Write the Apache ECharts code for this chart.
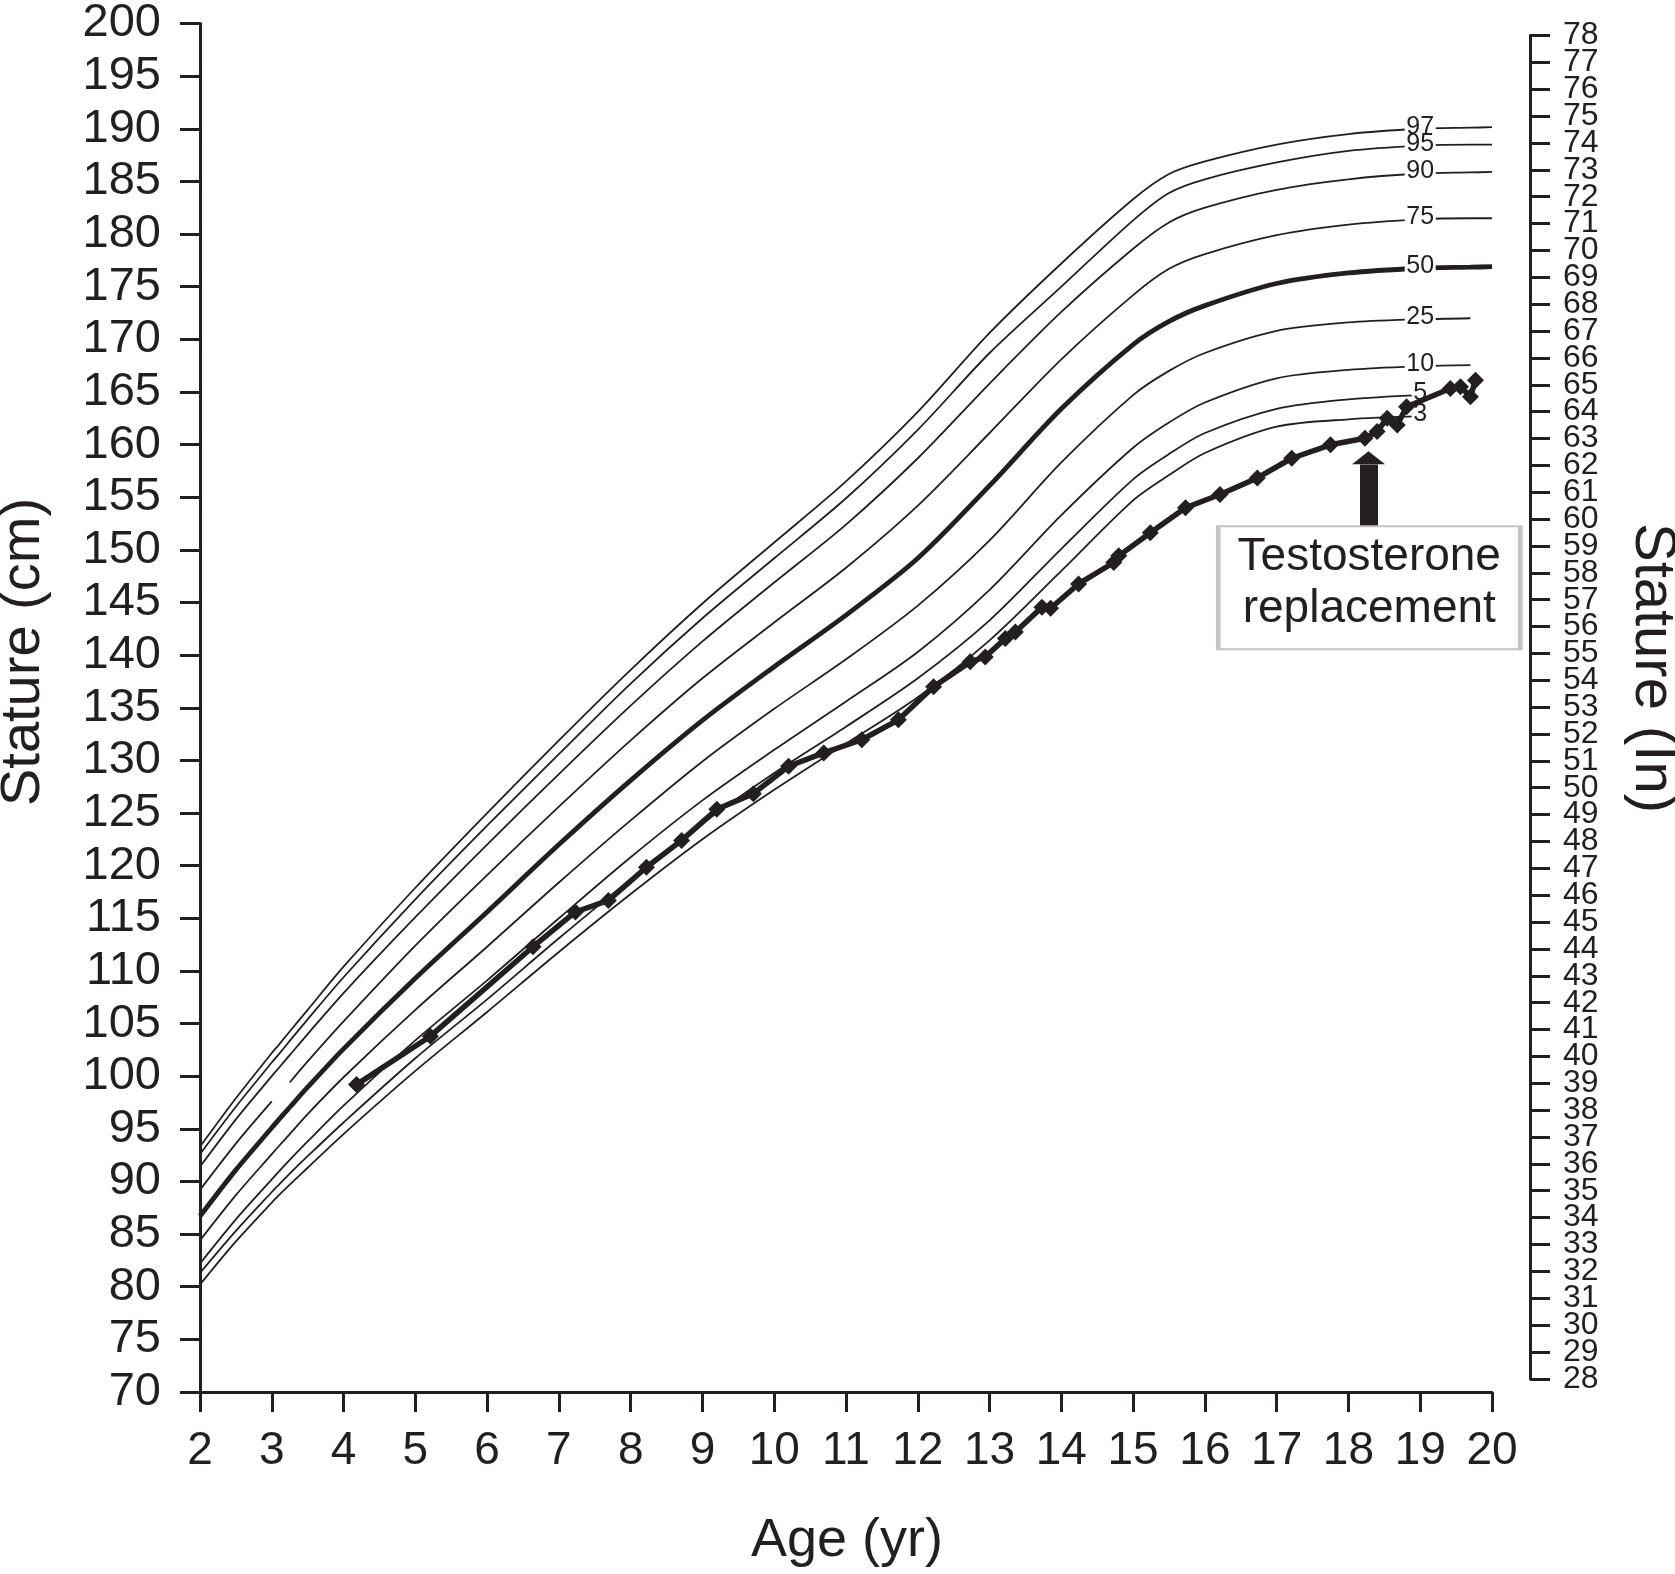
<!DOCTYPE html>
<html>
<head>
<meta charset="utf-8">
<script src="https://cdn.jsdelivr.net/npm/echarts@6/dist/echarts.min.js"></script>
<style>
html,body{margin:0;padding:0;background:#fff;}
#chart{width:1675px;height:1574px;}
</style>
</head>
<body>
<div id="chart"></div>
<script>
// ---------- data ----------
const ages = [2, 2.5, 3, 3.1, 3.25, 3.5, 4, 5, 6, 7, 8, 9, 10, 11, 12, 13, 14, 15, 15.5, 16, 17, 18, 19, 19.7, 20];
const p3  = [80.2, 84.3, 88.0, 88.7, 89.7, 91.3, 94.5, 100.5, 106.1, 111.8, 117.3, 122.5, 127.2, 131.6, 136.0, 141.4, 148.0, 154.7, 157.1, 159.2, 161.7, 162.4, 162.7, null, null];
const p5  = [81.3, 85.3, 89.0, 89.7, 90.75, 92.4, 95.6, 101.7, 107.3, 113.1, 118.7, 124.0, 128.8, 133.2, 137.8, 143.3, 150.1, 156.7, 159.1, 161.1, 163.4, 164.3, 164.7, null, null];
const p10 = [82.2, 86.4, 90.2, 90.95, 92.05, 93.8, 97.2, 103.4, 109.1, 115.0, 120.8, 126.2, 131.0, 135.6, 140.3, 146.2, 153.3, 159.7, 162.1, 164.0, 166.3, 167.1, 167.45, 167.55, null];
const p25 = [84.4, 88.7, 92.6, 93.37, 94.5, 96.4, 99.9, 106.3, 112.3, 118.4, 124.3, 129.9, 134.9, 139.6, 144.7, 150.9, 158.3, 164.7, 167.0, 168.7, 170.8, 171.6, 171.9, 172.0, null];
const p50 = [86.7, 91.1, 95.1, 95.9, 97.05, 98.95, 102.6, 109.3, 115.6, 122.0, 128.1, 133.8, 138.9, 143.8, 149.2, 156.1, 163.4, 169.5, 171.7, 173.2, 175.3, 176.3, 176.75, 176.85, 176.9];
const p75 = [89.2, 93.6, 97.6, null, 99.4, 101.4, 105.2, 112.4, 119.1, 125.6, 131.9, 137.8, 143.1, 148.3, 154.2, 161.1, 168.1, 174.2, 176.7, 178.1, 179.9, 180.9, 181.4, 181.5, 181.5];
const p90 = [91.4, 95.9, 100.0, 100.8, 102.0, 104.0, 107.9, 115.1, 122.0, 128.7, 135.2, 141.3, 146.9, 152.4, 158.7, 165.8, 172.6, 178.6, 181.1, 182.5, 184.2, 185.2, 185.75, 185.85, 185.9];
const p95 = [92.6, 97.1, 101.3, 102.1, 103.35, 105.4, 109.4, 116.8, 123.8, 130.6, 137.3, 143.5, 149.2, 154.9, 161.4, 168.7, 175.0, 181.3, 183.9, 185.2, 186.8, 187.9, 188.4, 188.5, 188.5];
const p97 = [93.3, 97.9, 102.2, 103.0, 104.25, 106.3, 110.4, 117.9, 125.0, 131.9, 138.6, 144.9, 150.7, 156.5, 163.1, 170.6, 177.2, 183.3, 185.7, 186.9, 188.5, 189.5, 190.0, 190.1, 190.15];
const percentileNames = ['3', '5', '10', '25', '50', '75', '90', '95', '97'];
const percentileValues = [p3, p5, p10, p25, p50, p75, p90, p95, p97];
const labelAge = 19;

const patientAge = [4.18, 5.21, 6.64, 7.23, 7.69, 8.22, 8.71, 9.20, 9.71, 10.20, 10.69, 11.22, 11.73, 12.22, 12.73, 12.94, 13.22, 13.36, 13.73, 13.85, 14.24, 14.73, 14.80, 15.24, 15.73, 16.21, 16.73, 17.21, 17.75, 18.23, 18.40, 18.54, 18.68, 18.81, 19.42, 19.56, 19.70, 19.77];
const patientCm  = [99.2, 103.8, 112.3, 115.6, 116.7, 119.85, 122.4, 125.35, 126.84, 129.44, 130.71, 131.96, 133.85, 137.0, 139.36, 139.83, 141.57, 142.19, 144.55, 144.45, 146.76, 148.8, 149.43, 151.63, 154.0, 155.26, 156.83, 158.7, 159.98, 160.6, 161.24, 162.5, 161.87, 163.6, 165.33, 165.49, 164.55, 166.12];

const xTicks = {min: 2, max: 20, step: 1};
const cmTicks = {min: 70, max: 200, step: 5};
const inTicks = {min: 28, max: 78, step: 1};

const annotationText = 'Testosterone\nreplacement';
const annotationAt = [18.29, 146.4];
const arrowAge = 18.28;
const arrowShaft = [152.2, 158.1];
const arrowHeadCenter = 158.74;

// ---------- chart ----------
const INK = '#231f20';
const FONT = '"Liberation Sans", Arial, Helvetica, sans-serif';
const chart = echarts.init(document.getElementById('chart'));

const series = percentileNames.map((name, k) => {
  const vals = percentileValues[k];
  const data = ages.map((a, i) => [a, vals[i] == null ? '-' : vals[i]]);
  const li = ages.indexOf(labelAge);
  return {
    type: 'line', name: 'P' + name, xAxisIndex: 0, yAxisIndex: 0,
    data, smooth: 0.3, showSymbol: false, symbol: 'none', silent: true, z: 2,
    connectNulls: false,
    lineStyle: {color: INK, width: name === '50' ? 4.8 : 1.8},
    markPoint: {
      silent: true, animation: false,
      symbol: 'rect', symbolSize: [name.length * 14 + 3, 18],
      itemStyle: {color: '#fff'},
      label: {show: true, position: 'inside', color: INK, fontSize: 25, fontFamily: FONT,
              formatter: name, offset: [0, -2]},
      data: [{coord: [labelAge, vals[li]], value: name}]
    }
  };
});

series.push({
  type: 'line', name: 'patient', xAxisIndex: 0, yAxisIndex: 0,
  data: patientAge.map((a, i) => [a, patientCm[i]]),
  symbol: 'diamond', symbolSize: 17, showSymbol: true, z: 10, silent: true,
  lineStyle: {color: INK, width: 5.5},
  itemStyle: {color: INK},
  markLine: {
    silent: true, animation: false, symbol: ['none', 'none'],
    lineStyle: {color: INK, width: 18, type: 'solid', cap: 'butt'},
    label: {show: false},
    data: [[{coord: [arrowAge, arrowShaft[0]]}, {coord: [arrowAge, arrowShaft[1]]}]]
  },
  markPoint: {
    silent: true, animation: false,
    data: [
      {coord: [arrowAge, arrowHeadCenter], symbol: 'triangle', symbolSize: [33, 13],
       itemStyle: {color: INK}, label: {show: false}},
      {coord: annotationAt, symbol: 'rect', symbolSize: [302, 123],
       itemStyle: {color: '#fff', borderColor: '#c4c4c4', borderWidth: 3},
       label: {show: true, position: 'inside', formatter: annotationText, color: INK, offset: [0, -4],
               fontSize: 46, lineHeight: 52, fontFamily: FONT, align: 'center'}}
    ]
  }
});

const axisCommon = {
  axisLine: {show: true, lineStyle: {color: INK, width: 3}},
  axisTick: {show: true, inside: false, length: 20, lineStyle: {color: INK, width: 3}},
  splitLine: {show: false}
};
const inLabel = {color: INK, fontSize: 32, fontFamily: FONT, margin: 33};

chart.setOption({
  animation: false,
  backgroundColor: '#fff',
  grid: [
    {left: 200, right: 183, top: 14.5, bottom: 182},
    {left: 200, right: 145, top: 35.5, bottom: 195.2}
  ],
  xAxis: [
    Object.assign({type: 'value', gridIndex: 0, min: xTicks.min, max: xTicks.max, interval: xTicks.step,
      axisLabel: {color: INK, fontSize: 46, fontFamily: FONT, margin: 36, showMinLabel: true, showMaxLabel: true}}, axisCommon),
    {type: 'value', gridIndex: 1, min: xTicks.min, max: xTicks.max, show: false}
  ],
  yAxis: [
    Object.assign({type: 'value', gridIndex: 0, min: cmTicks.min, max: cmTicks.max, interval: cmTicks.step,
      axisLabel: {color: INK, fontSize: 47, fontFamily: FONT, margin: 39, showMinLabel: true, showMaxLabel: true}}, axisCommon),
    // inch axis: inner labels
    Object.assign({type: 'value', gridIndex: 1, position: 'right', min: inTicks.min, max: inTicks.max, interval: inTicks.step,
      axisLabel: Object.assign({showMinLabel: false, showMaxLabel: false}, inLabel)}, axisCommon),
    // inch axis: end labels (and all ticks)
    Object.assign({type: 'value', gridIndex: 1, position: 'right', min: inTicks.min, max: inTicks.max, interval: inTicks.step,
      axisLabel: Object.assign({showMinLabel: true, showMaxLabel: true,
        formatter: v => (v === inTicks.min || v === inTicks.max) ? String(v) : ''}, inLabel)}, axisCommon)
  ],
  graphic: [
    {type: 'text', x: 24, y: 652, rotation: Math.PI / 2,
     style: {text: 'Stature (cm)', fill: INK, font: '56px ' + FONT, textAlign: 'center', textVerticalAlign: 'middle'}},
    {type: 'text', x: 1652, y: 668, rotation: -Math.PI / 2,
     style: {text: 'Stature (In)', fill: INK, font: '58px ' + FONT, textAlign: 'center', textVerticalAlign: 'middle'}},
    {type: 'text', x: 847, y: 1541,
     style: {text: 'Age (yr)', fill: INK, font: '54px ' + FONT, textAlign: 'center', textVerticalAlign: 'middle'}}
  ],
  series
});
</script>
</body>
</html>
